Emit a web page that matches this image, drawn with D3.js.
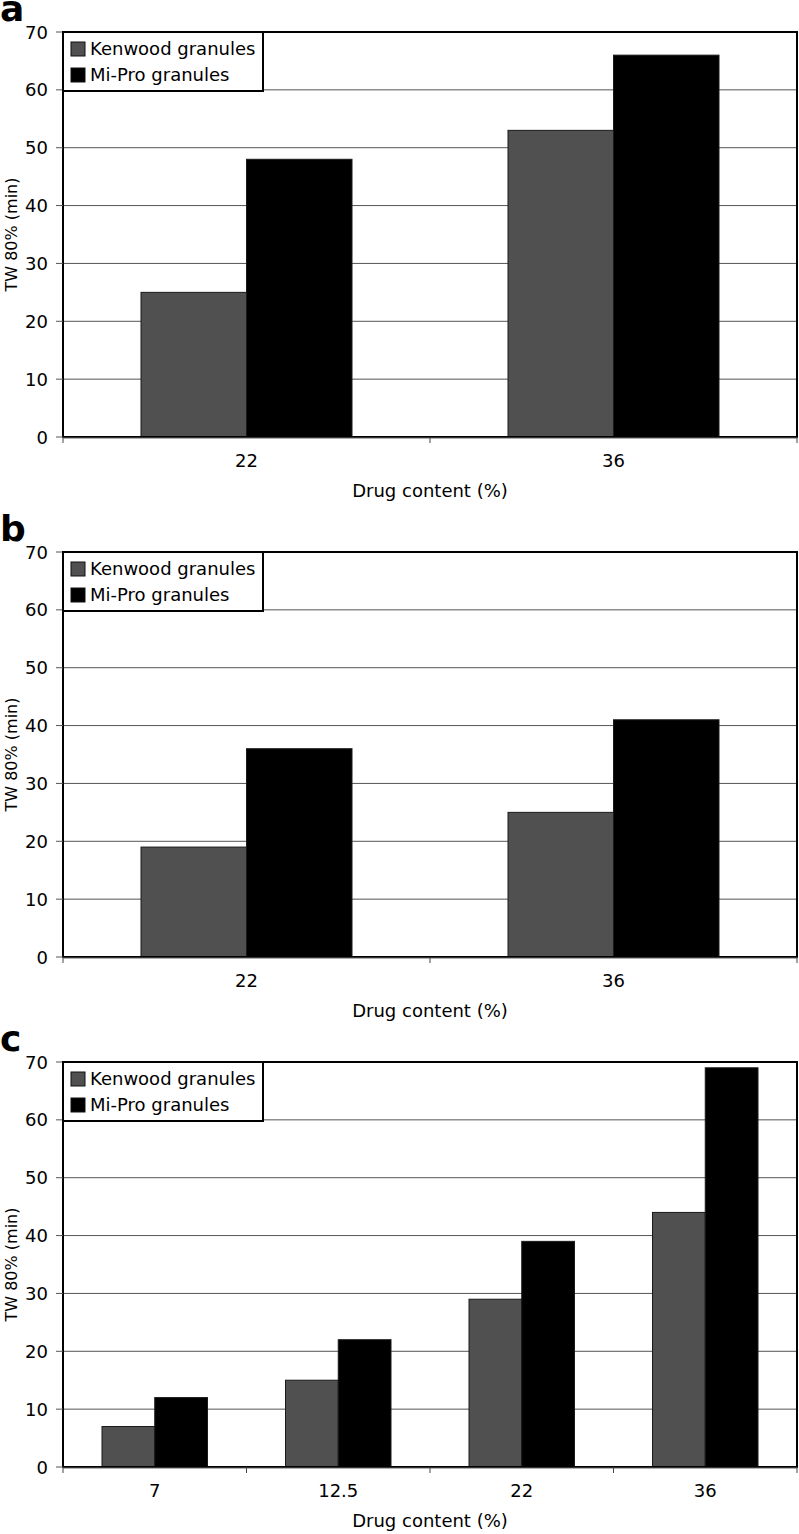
<!DOCTYPE html>
<html>
<head>
<meta charset="utf-8">
<script src="https://cdn.jsdelivr.net/npm/d3@7"></script>
<style>
  html, body { margin: 0; padding: 0; background: #fff; }
  svg { display: block; }
  text { font-family: "DejaVu Sans", Verdana, sans-serif; fill: #000; }
</style>
</head>
<body>
<svg id="chart" width="799" height="1534"></svg>
<script>
// ---- data ----
const seriesNames = ["Kenwood granules", "Mi-Pro granules"];
const seriesColors = ["#505050", "#000000"];
const yTicks = [0, 10, 20, 30, 40, 50, 60, 70];
const panelLetters = ["a", "b", "c"];

const categoriesA = ["22", "36"];
const kenwoodA = [25, 53];
const miproA = [48, 66];

const categoriesB = ["22", "36"];
const kenwoodB = [19, 25];
const miproB = [36, 41];

const categoriesC = ["7", "12.5", "22", "36"];
const kenwoodC = [7, 15, 29, 44];
const miproC = [12, 22, 39, 69];

const xTitle = "Drug content (%)";
const yTitle = "TW 80% (min)";

// ---- layout ----
const svg = d3.select("#chart");
const plotLeft = 63, plotRight = 797, plotH = 405;
const panelTops = [32, 552, 1062];

const panels = [
  { letter: panelLetters[0], cats: categoriesA, series: [kenwoodA, miproA] },
  { letter: panelLetters[1], cats: categoriesB, series: [kenwoodB, miproB] },
  { letter: panelLetters[2], cats: categoriesC, series: [kenwoodC, miproC] }
];

panels.forEach((p, i) => {
  const top = panelTops[i];
  const g = svg.append("g").attr("transform", `translate(0,${top})`);

  const x = d3.scaleBand().domain(p.cats).range([plotLeft, plotRight]).paddingInner(0).paddingOuter(0);
  const pairFrac = 211 / 367;
  const y = d3.scaleLinear().domain([0, 70]).range([plotH, 0]);

  // gridlines
  g.append("g").selectAll("line").data(yTicks.filter(t => t > 0 && t < 70)).join("line")
    .attr("x1", plotLeft).attr("x2", plotRight)
    .attr("y1", d => y(d)).attr("y2", d => y(d))
    .attr("stroke", "#555").attr("stroke-width", 1);

  // bars
  const bw = x.bandwidth() * pairFrac / 2;
  const offset = (x.bandwidth() - 2 * bw) / 2;
  p.series.forEach((vals, si) => {
    g.append("g").selectAll("rect").data(vals).join("rect")
      .attr("x", (d, k) => x(p.cats[k]) + offset + si * bw)
      .attr("y", d => y(d))
      .attr("width", bw)
      .attr("height", d => y(0) - y(d))
      .attr("fill", seriesColors[si])
      .attr("stroke", "#1a1a1a").attr("stroke-width", 1);
  });

  // plot frame
  g.append("rect").attr("x", plotLeft).attr("y", 0)
    .attr("width", plotRight - plotLeft).attr("height", plotH)
    .attr("fill", "none").attr("stroke", "#000").attr("stroke-width", 2);

  // x axis line + ticks
  g.append("line").attr("x1", plotLeft).attr("x2", plotRight)
    .attr("y1", plotH + 1).attr("y2", plotH + 1).attr("stroke", "#666").attr("stroke-width", 1);
  const bounds = p.cats.map(c => x(c)).concat([plotRight]);
  g.append("g").selectAll("line").data(bounds).join("line")
    .attr("x1", d => d).attr("x2", d => d)
    .attr("y1", plotH).attr("y2", plotH + 6)
    .attr("stroke", "#444").attr("stroke-width", 1);
  g.append("g").selectAll("text").data(p.cats).join("text")
    .attr("x", d => x(d) + x.bandwidth() / 2)
    .attr("y", plotH + 30)
    .attr("text-anchor", "middle")
    .attr("font-size", 18)
    .text(d => d);

  // y ticks
  g.append("g").selectAll("line").data(yTicks).join("line")
    .attr("x1", plotLeft - 7).attr("x2", plotLeft)
    .attr("y1", d => y(d)).attr("y2", d => y(d))
    .attr("stroke", "#555").attr("stroke-width", 1);
  g.append("g").selectAll("text").data(yTicks).join("text")
    .attr("x", 48).attr("y", d => y(d) + 6.5)
    .attr("text-anchor", "end")
    .attr("font-size", 18)
    .text(d => d);

  // axis titles
  g.append("text")
    .attr("transform", `translate(17,${plotH / 2}) rotate(-90)`)
    .attr("text-anchor", "middle")
    .attr("font-size", 16)
    .text(yTitle);
  g.append("text")
    .attr("x", (plotLeft + plotRight) / 2)
    .attr("y", plotH + 60)
    .attr("text-anchor", "middle")
    .attr("font-size", 18)
    .text(xTitle);

  // panel letter
  g.append("text")
    .attr("x", 0).attr("y", -11)
    .attr("font-family", "'Liberation Sans', Arial, sans-serif")
    .attr("font-weight", "bold")
    .attr("font-size", 36)
    .text(p.letter);

  // legend
  const lg = g.append("g");
  lg.append("rect").attr("x", plotLeft).attr("y", 0).attr("width", 200).attr("height", 59)
    .attr("fill", "#fff").attr("stroke", "#000").attr("stroke-width", 2);
  seriesNames.forEach((name, si) => {
    lg.append("rect").attr("x", 71).attr("y", 10 + si * 26).attr("width", 14).attr("height", 14)
      .attr("fill", seriesColors[si]).attr("stroke", "#111").attr("stroke-width", 1);
    lg.append("text").attr("x", 90).attr("y", 23 + si * 26)
      .attr("font-size", 18).text(name);
  });
});
</script>
</body>
</html>
